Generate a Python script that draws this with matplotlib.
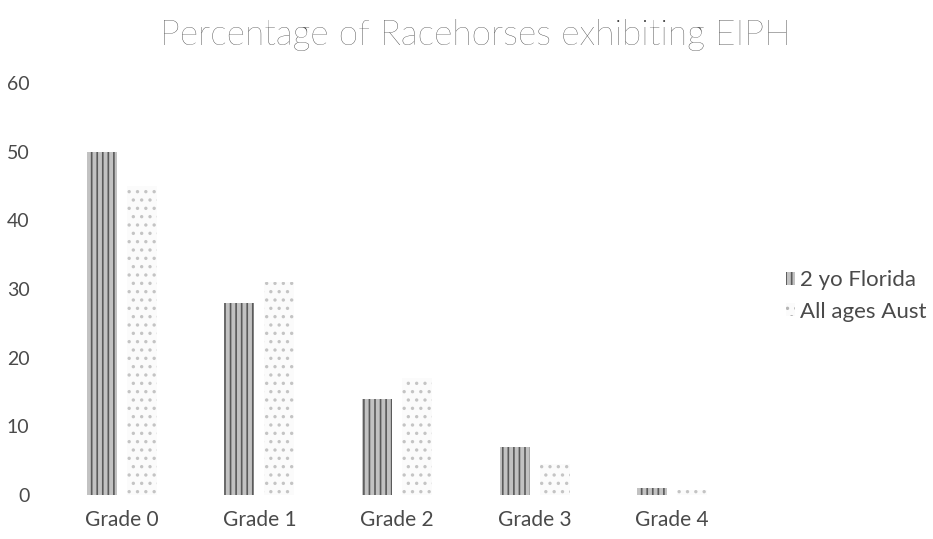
import matplotlib
matplotlib.use("Agg")
import matplotlib.pyplot as plt
import numpy as np
from matplotlib.patches import Patch

categories = ["Grade 0", "Grade 1", "Grade 2", "Grade 3", "Grade 4"]
florida_2yo = [50, 28, 14, 7, 1]
all_ages_aust = [45, 31, 17, 4.5, 0.8]
series_names = ["2 yo Florida", "All ages Aust"]
yticks = [0, 10, 20, 30, 40, 50, 60]

plt.rcParams['font.family'] = ['Lato', 'DejaVu Sans']
plt.rcParams['hatch.linewidth'] = 1.2

fig = plt.figure(figsize=(9.33, 5.39), dpi=100)
ax = fig.add_axes([53/933, 1-495/539, (741-53)/933, (495-83)/539])

x = np.arange(len(categories))
w = 0.218
off = 0.145
c1 = '#c2c2c2'
c2 = '#fbfbfb'
ax.bar(x - off, florida_2yo, width=w, color=c1, edgecolor='#5a5a5a', hatch='|||', linewidth=0)
ax.bar(x + off, all_ages_aust, width=w, color=c2, edgecolor='#c4c4c4', hatch='..', linewidth=0)

ax.set_xlim(-0.5, len(categories) - 0.5)
ax.set_ylim(0, 60)
ax.set_yticks(yticks)
ax.set_xticks(x)
ax.set_xticklabels(categories, fontsize=15)
for s in ax.spines.values():
    s.set_visible(False)
ax.tick_params(axis='both', length=0, colors='#4a4a4a')
ax.tick_params(axis='y', pad=17, labelsize=14)
ax.tick_params(axis='x', pad=11)

fig.text(475/933, 1-35/539, "Percentage of Racehorses exhibiting EIPH", ha='center', va='center',
         fontsize=25.5, color='#333333', fontweight='light')

handles = [Patch(facecolor=c1, edgecolor='#5a5a5a', hatch='|||', linewidth=0),
           Patch(facecolor=c2, edgecolor='#b5b5b5', hatch='..', linewidth=0)]
fig.legend(handles, series_names, loc='center left', bbox_to_anchor=(766/933, 1-296/539),
           frameon=False, fontsize=16, handlelength=0.4, handleheight=0.5, handletextpad=0.25,
           labelspacing=0.5, labelcolor='#4a4a4a')

fig.savefig("out.png", dpi=100)
